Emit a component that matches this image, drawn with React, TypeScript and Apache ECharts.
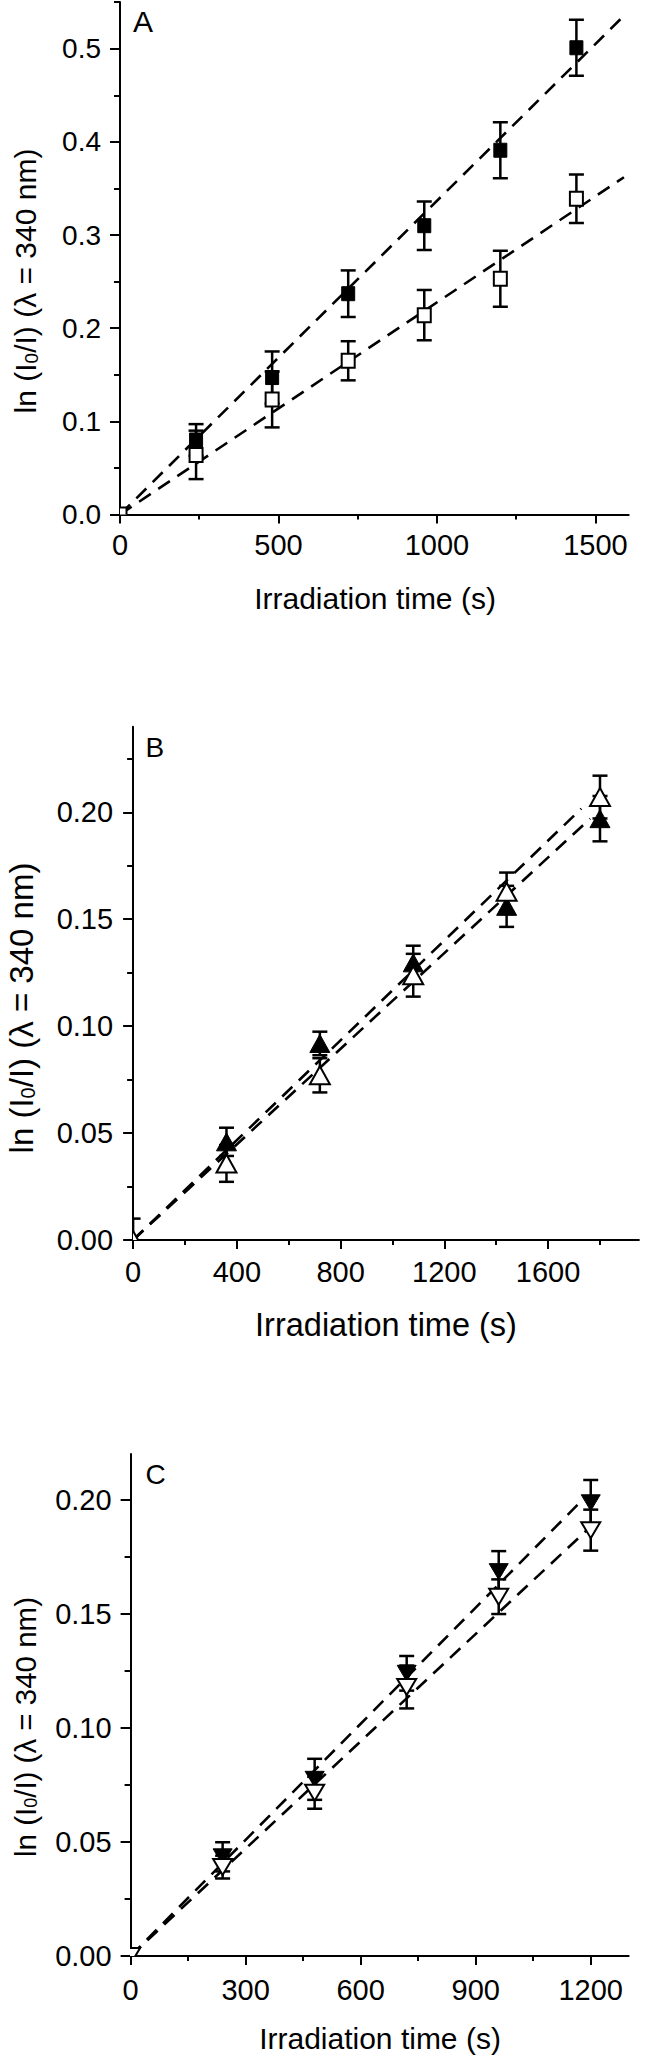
import React, { useEffect, useRef } from "react";
import * as echarts from "echarts";

// ---------- Panel A ----------
const tA = [0, 240, 480, 720, 960, 1200, 1440];
const aFilled = [0, 0.080, 0.147, 0.237, 0.310, 0.391, 0.501];
const aFilledErr = [0, 0.017, 0.028, 0.025, 0.026, 0.030, 0.030];
const aOpen = [0, 0.064, 0.1235, 0.165, 0.214, 0.253, 0.339];
const aOpenErr = [0, 0.026, 0.030, 0.021, 0.027, 0.030, 0.026];
const aFilledFitX = [0, 1580];
const aFilledFitY = [0, 0.532];
const aOpenFitX = [0, 1590];
const aOpenFitY = [0, 0.362];
const xTicksA = [0, 500, 1000, 1500];
const xMinorA = [250, 750, 1250];
const yTicksA = [0, 0.1, 0.2, 0.3, 0.4, 0.5];
const yMinorA = [0.05, 0.15, 0.25, 0.35, 0.45, 0.55];

// ---------- Panel B ----------
const tB = [0, 360, 720, 1080, 1440, 1800];
const bFilled = [0, 0.0459, 0.0919, 0.1296, 0.156, 0.197];
const bFilledErr = [0.01, 0.0066, 0.0055, 0.008, 0.0096, 0.0106];
const bOpen = [0, 0.0358, 0.077, 0.1238, 0.1628, 0.2071];
const bOpenErr = [0, 0.0086, 0.008, 0.010, 0.009, 0.010];
const bFilledFitX = [0, 1762];
const bFilledFitY = [0, 0.197];
const bOpenFitX = [0, 1728];
const bOpenFitY = [0, 0.2017];
const xTicksB = [0, 400, 800, 1200, 1600];
const xMinorB = [200, 600, 1000, 1400, 1800];
const yTicksB = [0, 0.05, 0.1, 0.15, 0.2];
const yMinorB = [0.025, 0.075, 0.125, 0.175, 0.225];

// ---------- Panel C ----------
const tC = [0, 240, 480, 720, 960, 1200];
const cFilled = [0, 0.0435, 0.0775, 0.124, 0.1686, 0.1988];
const cFilledErr = [0, 0.0064, 0.009, 0.0076, 0.009, 0.010];
const cOpen = [0, 0.039, 0.0716, 0.118, 0.1576, 0.1868];
const cOpenErr = [0, 0.005, 0.007, 0.0094, 0.0076, 0.009];
const cFilledFitX = [0, 1172];
const cFilledFitY = [0, 0.199];
const cOpenFitX = [0, 1220];
const cOpenFitY = [0, 0.1915];
const xTicksC = [0, 300, 600, 900, 1200];
const xMinorC = [150, 450, 750, 1050];
const yTicksC = [0, 0.05, 0.1, 0.15, 0.2];
const yMinorC = [0.025, 0.075, 0.125, 0.175];

const xTitle = "Irradiation time (s)";
const yTitleParts = ["ln (I", "0", "/I) (λ = 340 nm)"];
const panelLetters = ["A", "B", "C"];

const FONT = '"Liberation Sans", Arial, sans-serif';

function axisPair(dim: "x" | "y", grid: number, min: number, max: number, major: number[], minor: number[], label: any) {
  const majorLen = dim === "x" ? 9 : 10;
  const minorLen = dim === "x" ? 5 : 6;
  const main = {
    type: "value",
    gridIndex: grid,
    min,
    max,
    position: dim === "x" ? "bottom" : "left",
    axisLine: { show: true, onZero: false, lineStyle: { color: "#000", width: 2 } },
    axisTick: { show: true, inside: false, length: majorLen, customValues: major, lineStyle: { color: "#000", width: 2 } },
    minorTick: { show: false },
    axisLabel: { show: true, customValues: major, color: "#000", fontFamily: FONT, ...label },
    splitLine: { show: false },
  };
  const sec = {
    type: "value",
    gridIndex: grid,
    min,
    max,
    position: dim === "x" ? "bottom" : "left",
    axisLine: { show: false, onZero: false },
    axisTick: { show: true, inside: false, length: minorLen, customValues: minor, lineStyle: { color: "#000", width: 2 } },
    axisLabel: { show: false },
    splitLine: { show: false },
  };
  return [main, sec];
}

function markerSeries(g: number, xs: number[], ys: number[], es: number[], shape: string, filled: boolean, w: number, h: number) {
  return {
    type: "custom",
    xAxisIndex: g * 2,
    yAxisIndex: g * 2,
    clip: true,
    z: 5,
    silent: true,
    data: xs.map((x, i) => [x, ys[i], es[i]]),
    renderItem: (params: any, api: any) => {
      const x = api.value(0);
      const y = api.value(1);
      const e = api.value(2);
      const p = api.coord([x, y]);
      const children: any[] = [];
      const st = { stroke: "#000", lineWidth: 2.5 };
      if (e > 0) {
        const t = api.coord([x, y + e]);
        const b = api.coord([x, y - e]);
        const cw = 7.5;
        children.push({ type: "line", shape: { x1: p[0], y1: t[1], x2: p[0], y2: b[1] }, style: st });
        children.push({ type: "line", shape: { x1: p[0] - cw, y1: t[1], x2: p[0] + cw, y2: t[1] }, style: st });
        children.push({ type: "line", shape: { x1: p[0] - cw, y1: b[1], x2: p[0] + cw, y2: b[1] }, style: st });
      }
      const ms = { fill: filled ? "#000" : "#fff", stroke: "#000", lineWidth: filled ? 1 : 2 };
      if (shape === "square") {
        children.push({ type: "rect", shape: { x: p[0] - w / 2, y: p[1] - h / 2, width: w, height: h }, style: ms });
      } else if (shape === "up") {
        children.push({
          type: "polygon",
          shape: { points: [[p[0], p[1] - h / 2], [p[0] + w / 2, p[1] + h / 2], [p[0] - w / 2, p[1] + h / 2]] },
          style: ms,
        });
      } else {
        children.push({
          type: "polygon",
          shape: { points: [[p[0], p[1] + h / 2], [p[0] + w / 2, p[1] - h / 2], [p[0] - w / 2, p[1] - h / 2]] },
          style: ms,
        });
      }
      return { type: "group", children };
    },
  };
}

function fitSeries(g: number, xs: number[], ys: number[]) {
  return {
    type: "line",
    xAxisIndex: g * 2,
    yAxisIndex: g * 2,
    data: xs.map((x, i) => [x, ys[i]]),
    showSymbol: false,
    symbol: "none",
    silent: true,
    z: 3,
    lineStyle: { color: "#000", width: 2.6, type: [14, 9] },
  };
}

export default function App() {
  const ref = useRef<HTMLDivElement>(null);
  useEffect(() => {
    if (!ref.current) return;
    const chart = echarts.init(ref.current, null, { renderer: "svg" });

    const fx = (v: number) => String(Math.round(v));
    const xLabelA = { fontSize: 29, margin: 16, formatter: fx };
    const yLabelA = { fontSize: 28, margin: 19, formatter: (v: number) => v.toFixed(1) };
    const xLabelB = { fontSize: 29, margin: 17, formatter: fx };
    const yLabelB = { fontSize: 29, margin: 20, formatter: (v: number) => v.toFixed(2) };
    const xLabelC = { fontSize: 29, margin: 19, formatter: fx };
    const yLabelC = { fontSize: 29, margin: 19, formatter: (v: number) => v.toFixed(2) };

    const xAxes = [
      ...axisPair("x", 0, 0, 1605, xTicksA, xMinorA, xLabelA),
      ...axisPair("x", 1, 0, 1950, xTicksB, xMinorB, xLabelB),
      ...axisPair("x", 2, 0, 1299, xTicksC, xMinorC, xLabelC),
    ];
    const yAxes = [
      ...axisPair("y", 0, 0, 0.55, yTicksA, yMinorA, yLabelA),
      ...axisPair("y", 1, 0, 0.24, yTicksB, yMinorB, yLabelB),
      ...axisPair("y", 2, 0, 0.2202, yTicksC, yMinorC, yLabelC),
    ];

    const yTitleEl = (cx: number, cy: number, fs: number) => {
      const subFs = Math.round(fs * 0.62);
      const pad = Math.round(fs * 0.55);
      return {
        type: "text",
        x: cx + 0.085 * fs,
        y: cy,
        rotation: Math.PI / 2,
        silent: true,
        style: {
          text: `{n|${yTitleParts[0]}}{s|${yTitleParts[1]}}{n|${yTitleParts[2]}}`,
          fontSize: fs,
          fontFamily: FONT,
          fill: "#000",
          align: "center",
          verticalAlign: "middle",
          rich: {
            n: { fontSize: fs, fontFamily: FONT, fill: "#000", lineHeight: fs, verticalAlign: "top" },
            s: { fontSize: subFs, fontFamily: FONT, fill: "#000", lineHeight: subFs, verticalAlign: "bottom", padding: [pad, 0, 0, 0] },
          },
        },
      };
    };
    const xTitleEl = (x: number, y: number, fs: number) => ({
      type: "text",
      x,
      y,
      silent: true,
      style: { text: xTitle, fontSize: fs, fontFamily: FONT, fill: "#000", align: "center", verticalAlign: "middle" },
    });
    const letterEl = (i: number, x: number, y: number, fs: number) => ({
      type: "text",
      x,
      y,
      silent: true,
      style: { text: panelLetters[i], fontSize: fs, fontFamily: FONT, fill: "#000", align: "left", verticalAlign: "middle" },
    });

    chart.setOption({
      animation: false,
      backgroundColor: "#fff",
      grid: [
        { left: 120, top: 2.1, width: 508.7, height: 512.4, outerBoundsMode: "none", containLabel: false },
        { left: 133.1, top: 726.7, width: 505.8, height: 513.3, outerBoundsMode: "none", containLabel: false },
        { left: 130.6, top: 1454, width: 498.1, height: 502, outerBoundsMode: "none", containLabel: false },
      ],
      xAxis: xAxes,
      yAxis: yAxes,
      series: [
        fitSeries(0, aFilledFitX, aFilledFitY),
        fitSeries(0, aOpenFitX, aOpenFitY),
        markerSeries(0, tA, aFilled, aFilledErr, "square", true, 13, 14),
        markerSeries(0, tA, aOpen, aOpenErr, "square", false, 13, 14),
        fitSeries(1, bFilledFitX, bFilledFitY),
        fitSeries(1, bOpenFitX, bOpenFitY),
        markerSeries(1, tB, bFilled, bFilledErr, "up", true, 20, 18),
        markerSeries(1, tB, bOpen, bOpenErr, "up", false, 20, 18),
        fitSeries(2, cFilledFitX, cFilledFitY),
        fitSeries(2, cOpenFitX, cOpenFitY),
        markerSeries(2, tC, cFilled, cFilledErr, "down", true, 19, 16),
        markerSeries(2, tC, cOpen, cOpenErr, "down", false, 19, 16),
      ],
      graphic: {
        elements: [
          yTitleEl(23, 281, 30),
          yTitleEl(19, 1008, 33),
          yTitleEl(23, 1727, 29.5),
          xTitleEl(375, 598, 30),
          xTitleEl(386, 1325, 32.5),
          xTitleEl(380, 2038, 30),
          letterEl(0, 133, 21, 30),
          letterEl(1, 145.5, 747, 28),
          letterEl(2, 145.5, 1474, 28),
        ],
      },
    });
    return () => chart.dispose();
  }, []);
  return <div ref={ref} style={{ position: "absolute", left: 0, top: 0, width: 653, height: 2056 }} />;
}
